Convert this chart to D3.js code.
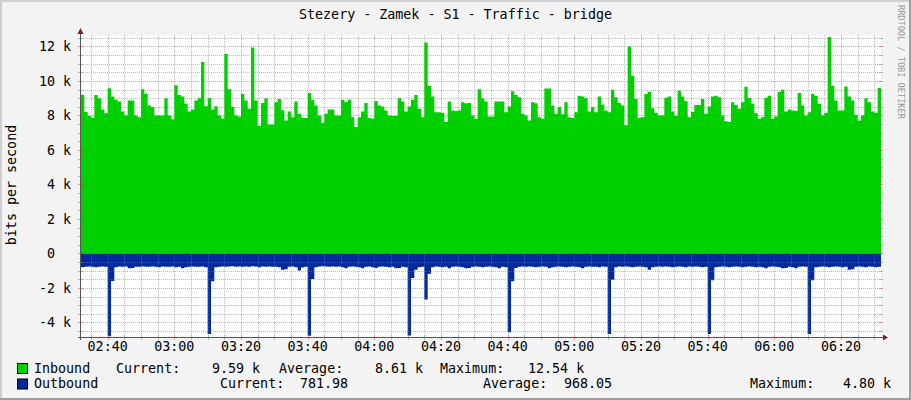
<!DOCTYPE html>
<html>
<head>
<meta charset="utf-8">
<script src="https://cdn.jsdelivr.net/npm/d3@7"></script>
<style>
html, body { margin: 0; padding: 0; background: #f3f3f3; }
svg text { font-family: "DejaVu Sans Mono", monospace; white-space: pre; }
</style>
</head>
<body>
<div id="chart"></div>
<script>
// one value per minute, in k bits per second
const inboundK = [
  9.2, 8.2, 7.96, 7.87, 9.18, 8.99, 8.34, 8.13, 9.58, 9.1,
  8.91, 8.8, 8.23, 8.0, 8.86, 8.86, 8.0, 7.89, 9.52, 9.24,
  8.57, 8.48, 8.0, 8.0, 8.0, 8.99, 8.0, 7.77, 9.75, 9.18,
  9.09, 8.67, 8.23, 8.34, 8.86, 9.0, 11.09, 8.53, 8.99, 8.34,
  8.53, 8.0, 7.81, 11.56, 9.52, 8.48, 8.0, 7.94, 9.24, 8.86,
  8.38, 11.94, 8.86, 7.39, 8.72, 8.99, 7.47, 7.47, 8.76, 8.95,
  8.3, 7.71, 8.23, 7.9, 8.8, 8.1, 7.85, 7.85, 9.3, 8.91,
  8.57, 8.0, 7.58, 8.1, 8.34, 8.34, 8.0, 8.0, 8.9, 8.76,
  8.91, 7.9, 7.33, 7.9, 8.23, 8.72, 7.85, 7.81, 8.84, 8.57,
  8.51, 8.29, 8.0, 7.96, 7.96, 8.99, 8.8, 8.23, 8.51, 8.91,
  9.18, 8.38, 7.9, 12.23, 9.71, 9.09, 8.19, 8.19, 8.15, 7.62,
  8.8, 8.29, 8.25, 8.29, 8.76, 8.7, 8.72, 8.0, 7.81, 9.52,
  9.0, 8.8, 7.94, 7.94, 8.8, 8.8, 8.8, 8.19, 8.51, 9.4,
  9.18, 9.05, 8.1, 8.0, 7.71, 8.76, 8.7, 7.9, 7.81, 9.56,
  9.56, 8.57, 8.1, 8.48, 8.06, 8.76, 7.9, 7.85, 8.19, 9.14,
  9.09, 9.0, 8.23, 8.48, 8.19, 9.1, 8.63, 8.29, 8.19, 9.49,
  9.05, 8.72, 8.57, 7.43, 12.0, 10.29, 8.95, 7.85, 7.9, 9.24,
  9.37, 8.42, 8.15, 8.0, 8.0, 9.03, 9.09, 8.23, 7.96, 9.43,
  9.09, 8.82, 7.9, 8.2, 8.61, 8.61, 8.95, 8.1, 8.51, 9.09,
  9.14, 9.05, 8.0, 7.66, 7.62, 8.76, 8.61, 8.38, 8.76, 9.66,
  9.01, 8.67, 8.13, 7.81, 7.9, 9.03, 9.14, 7.81, 7.94, 9.37,
  9.49, 8.23, 8.34, 8.29, 8.27, 9.3, 8.57, 8.0, 8.19, 9.26,
  9.14, 8.67, 8.0, 8.15, 12.54, 9.71, 8.86, 8.29, 8.29, 9.68,
  9.09, 8.86, 8.04, 7.71, 8.0, 8.99, 8.76, 8.23, 8.15, 9.59
];

// drawn below zero
const outboundK = [
  0.80, 0.78, 0.76, 0.78, 0.80, 0.78, 0.76, 0.78, 4.80, 1.60,
  0.80, 0.76, 0.78, 0.76, 0.86, 0.84, 0.78, 0.78, 0.76, 0.78,
  0.78, 0.76, 0.78, 0.80, 0.76, 0.78, 0.78, 0.76, 0.80, 0.78,
  0.86, 0.80, 0.78, 0.76, 0.78, 0.78, 0.76, 0.80, 4.67, 1.62,
  0.80, 0.78, 0.76, 0.78, 0.76, 0.74, 0.78, 0.76, 0.78, 0.76,
  0.78, 0.74, 0.76, 0.80, 0.76, 0.78, 0.76, 0.78, 0.78, 0.80,
  0.95, 0.92, 0.78, 0.76, 0.80, 0.99, 0.82, 0.78, 4.78, 1.49,
  0.80, 0.76, 0.74, 0.76, 0.78, 0.76, 0.78, 0.76, 0.80, 0.86,
  0.78, 0.76, 0.78, 0.80, 0.86, 0.78, 0.76, 0.80, 0.84, 0.78,
  0.76, 0.78, 0.80, 0.78, 0.86, 0.84, 0.78, 0.80, 4.76, 1.43,
  0.95, 0.80, 0.78, 2.67, 1.18, 0.80, 0.76, 0.78, 0.80, 0.78,
  0.86, 0.78, 0.76, 0.78, 0.80, 0.86, 0.84, 0.78, 0.76, 0.78,
  0.80, 0.78, 0.76, 0.78, 0.80, 0.86, 0.78, 0.80, 4.57, 1.62,
  0.84, 0.78, 0.76, 0.78, 0.76, 0.78, 0.80, 0.78, 0.76, 0.78,
  0.86, 0.80, 0.78, 0.76, 0.78, 0.80, 0.78, 0.76, 0.78, 0.80,
  0.86, 0.78, 0.76, 0.78, 0.78, 0.80, 0.76, 0.78, 4.67, 1.52,
  0.80, 0.76, 0.78, 0.76, 0.78, 0.80, 0.78, 0.76, 0.78, 0.80,
  0.95, 0.80, 0.78, 0.76, 0.78, 0.76, 0.78, 0.80, 0.78, 0.76,
  0.78, 0.80, 0.76, 0.78, 0.76, 0.78, 0.80, 0.78, 4.67, 1.56,
  0.80, 0.78, 0.76, 0.78, 0.80, 0.78, 0.76, 0.78, 0.80, 0.78,
  0.76, 0.78, 0.80, 0.78, 0.80, 0.86, 0.78, 0.76, 0.78, 0.80,
  0.86, 0.84, 0.78, 0.80, 0.86, 0.78, 0.76, 0.78, 4.67, 1.56,
  0.80, 0.78, 0.76, 0.78, 0.80, 0.78, 0.76, 0.78, 0.80, 0.78,
  0.95, 0.92, 0.78, 0.76, 0.78, 0.80, 0.76, 0.78, 0.80, 0.78
];

const yMajorTicks = [-4000, -2000, 0, 2000, 4000, 6000, 8000, 10000, 12000];
const timeLabels = ["02:40", "03:00", "03:20", "03:40", "04:00", "04:20",
                    "04:40", "05:00", "05:20", "05:40", "06:00", "06:20"];
const seriesNames = ["Inbound", "Outbound"];
const currentText = ["9.59 k", "781.98"];
const averageText = ["8.61 k", "968.05"];
const maximumText = ["12.54 k", "4.80 k"];

const W = 911, H = 400;
const plot = {left: 81, right: 881, top: 35, bottom: 337};
const green = "#00cf00", blue = "#002a97";

const svg = d3.select("#chart").append("svg")
    .attr("width", W).attr("height", H);

// background with shaded frame
svg.append("rect").attr("width", W).attr("height", H).attr("fill", "#f3f3f3");
svg.append("path").attr("d", `M0,0H${W}V2H2V${H}H0Z`).attr("fill", "#cfcfcf");
svg.append("path").attr("d", `M${W},${H}H0V${H-2}H${W-2}V0H${W}Z`).attr("fill", "#9e9e9e");

// 1. Data
const start = new Date(2000, 0, 1, 2, 32);
const minute = 60000;
const rows = inboundK.map((v, i) => ({
  t: new Date(+start + i * minute), inb: v * 1000, out: outboundK[i] * 1000
}));
const end = new Date(+start + rows.length * minute);
rows.push({t: end, inb: rows[rows.length - 1].inb, out: rows[rows.length - 1].out});

// 2. Scales
const x = d3.scaleTime().domain([start, end]).range([plot.left, plot.right]);
const y = d3.scaleLinear().domain([-4846, 12661]).range([plot.bottom, plot.top]);

svg.append("rect")
    .attr("x", plot.left).attr("y", plot.top)
    .attr("width", plot.right - plot.left).attr("height", plot.bottom - plot.top)
    .attr("fill", "#fff");

// 3. Areas
const inArea = d3.area().curve(d3.curveStepAfter)
    .x(d => x(d.t)).y0(y(0)).y1(d => y(d.inb));
const outArea = d3.area().curve(d3.curveStepAfter)
    .x(d => x(d.t)).y0(y(0)).y1(d => y(-d.out));

svg.append("path").datum(rows).attr("d", inArea).attr("fill", green);
svg.append("path").datum(rows).attr("d", outArea).attr("fill", blue);

// 4. Grid (drawn on top, like rrdtool)
const minorCol = "rgba(128,128,128,0.5)", majorCol = "rgba(225,60,60,0.5)";
const grid = svg.append("g").attr("shape-rendering", "crispEdges");

const yMinor = d3.range(-4500, 12501, 500).filter(v => v % 2000 !== 0);
const hLine = (v, col) => {
  const yy = Math.round(y(v)) + 0.5;
  grid.append("line").attr("x1", plot.left).attr("x2", plot.right + 1)
      .attr("y1", yy).attr("y2", yy)
      .attr("stroke", col).attr("stroke-dasharray", "1,1");
  grid.append("line").attr("x1", plot.left - 3).attr("x2", plot.left + 2)
      .attr("y1", yy).attr("y2", yy).attr("stroke", col);
  grid.append("line").attr("x1", plot.right - 2).attr("x2", plot.right + 2)
      .attr("y1", yy).attr("y2", yy).attr("stroke", col);
};
yMinor.forEach(v => hLine(v, minorCol));
yMajorTicks.forEach(v => hLine(v, majorCol));

const xMinor = d3.timeMinute.every(5).range(start, end).filter(t => t.getMinutes() % 20 !== 0);
const xMajor = d3.timeMinute.every(20).range(start, end);
const vLine = (t, col) => {
  const xx = Math.round(x(t)) + 0.5;
  grid.append("line").attr("x1", xx).attr("x2", xx)
      .attr("y1", plot.top).attr("y2", plot.bottom)
      .attr("stroke", col).attr("stroke-dasharray", "1,1");
  grid.append("line").attr("x1", xx).attr("x2", xx)
      .attr("y1", plot.bottom - 2).attr("y2", plot.bottom + 3).attr("stroke", col);
};
xMinor.forEach(t => vLine(t, minorCol));
xMajor.forEach(t => vLine(t, majorCol));

// 5. Axes and arrows
const axisCol = "#555", arrowCol = "#7f1f1f";
svg.append("line").attr("x1", plot.left - 3).attr("x2", plot.right + 2)
    .attr("y1", plot.bottom + 0.5).attr("y2", plot.bottom + 0.5)
    .attr("stroke", axisCol).attr("shape-rendering", "crispEdges");
svg.append("line").attr("x1", plot.left - 0.5).attr("x2", plot.left - 0.5)
    .attr("y1", plot.top - 2).attr("y2", plot.bottom + 3)
    .attr("stroke", axisCol).attr("shape-rendering", "crispEdges");
svg.append("path")
    .attr("d", `M${plot.left - 0.5},${plot.top - 7}L${plot.left - 3.5},${plot.top - 1}L${plot.left + 2.5},${plot.top - 1}Z`)
    .attr("fill", arrowCol);
svg.append("path")
    .attr("d", `M${plot.right + 7},${plot.bottom + 0.5}L${plot.right + 2},${plot.bottom - 2.5}L${plot.right + 2},${plot.bottom + 3.5}Z`)
    .attr("fill", arrowCol);

// 6. Labels
const fs = "13.33px";
svg.selectAll(".ylab").data(yMajorTicks).enter().append("text")
    .attr("class", "ylab")
    .attr("x", 71).attr("y", d => y(d))
    .attr("dy", "0.36em")
    .attr("text-anchor", "end").attr("font-size", fs)
    .text(d => d === 0 ? "0  " : `${d / 1000} k`);

svg.selectAll(".xlab").data(xMajor).enter().append("text")
    .attr("class", "xlab")
    .attr("x", d => x(d)).attr("y", 351)
    .attr("text-anchor", "middle").attr("font-size", fs)
    .text((d, i) => timeLabels[i]);

svg.append("text")
    .attr("x", W / 2).attr("y", 19)
    .attr("text-anchor", "middle").attr("font-size", fs)
    .text("Stezery - Zamek - S1 - Traffic - bridge");

svg.append("text")
    .attr("transform", "translate(15.5,185) rotate(-90)")
    .attr("text-anchor", "middle").attr("font-size", fs)
    .text("bits per second");

svg.append("text")
    .attr("transform", "translate(898,5) rotate(90)")
    .attr("font-size", "8.6px").attr("fill", "#9a9a9a")
    .text("RRDTOOL / TOBI OETIKER");

// 7. Legend
const legendY = [372.5, 388];
const colX = [
  {cur: 116, curV: 212, avg: 279, avgV: 375, max: 440, maxV: 528},
  {cur: 220, curV: 300, avg: 483, avgV: 564, max: 750, maxV: 843}
];
[green, blue].forEach((c, i) => {
  const ly = legendY[i];
  svg.append("rect").attr("x", 17.5).attr("y", ly - 9)
      .attr("width", 10).attr("height", 10)
      .attr("fill", c).attr("stroke", "#000").attr("stroke-width", 1);
  const items = [
    [34, seriesNames[i]],
    [colX[i].cur, "Current:"], [colX[i].curV, currentText[i]],
    [colX[i].avg, "Average:"], [colX[i].avgV, averageText[i]],
    [colX[i].max, "Maximum:"], [colX[i].maxV, maximumText[i]]
  ];
  items.forEach(([xx, s]) => {
    svg.append("text").attr("x", xx).attr("y", ly)
        .attr("font-size", fs).text(s);
  });
});
</script>
</body>
</html>
